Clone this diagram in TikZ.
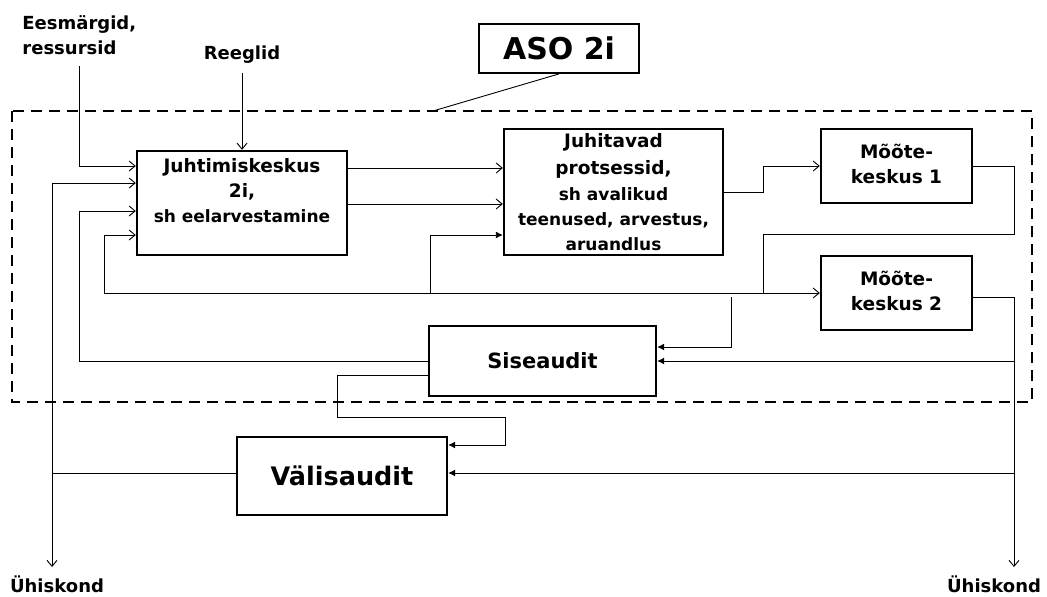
\documentclass[tikz,border=0pt]{standalone}
\usepackage{fontspec}
\setmainfont{DejaVu Sans}
\usetikzlibrary{arrows.meta}
\newcommand\smallfs{\fontsize{17}{24}\selectfont}

\begin{document}
\begin{tikzpicture}[x=1pt,y=-1pt,
    >={Straight Barb[length=6pt,width=10pt]},
    box/.style={draw,line width=2.4pt,align=center,inner sep=0pt,font=\bfseries\fontsize{18.5}{25}\selectfont},
    lbl/.style={font=\bfseries\fontsize{18}{25}\selectfont,inner sep=0pt},
    every path/.style={line width=0.9pt},
    fill tip/.style={-{Latex[length=7pt,width=7pt]}}]
    \useasboundingbox (0,0) rectangle (1047,597);
    \draw [line width=2.2pt, dash pattern=on 11pt off 7pt] (12,111) rectangle (1032,402);

    \node [box, line width=1.8pt, minimum width=160pt, minimum height=49pt, font=\bfseries\fontsize{30}{36}\selectfont] (aso) at (559,48.5) {ASO 2i};
    \node [box, minimum width=210pt, minimum height=104pt] (juht) at (242,203) {Juhtimiskeskus\\2i,\\{\smallfs sh eelarvestamine}\\ \mbox{}};
    \node [box, minimum width=219pt, minimum height=126pt] (prots) at (613.5,192) {Juhitavad\\[2pt]protsessid,\\[1pt]{\smallfs sh avalikud}\\{\smallfs teenused, arvestus,}\\{\smallfs aruandlus}};
    \node [box, minimum width=151pt, minimum height=74pt] (moot1) at (896.5,166) {\mbox{}\\[-14pt]Mõõte-\\keskus 1};
    \node [box, minimum width=151pt, minimum height=74pt] (moot2) at (896.5,293) {\mbox{}\\[-14pt]Mõõte-\\keskus 2};
    \node [box, minimum width=227pt, minimum height=70pt, font=\bfseries\fontsize{21}{25}\selectfont] (sise) at (542.5,361) {Siseaudit};
    \node [box, minimum width=210pt, minimum height=78pt, font=\bfseries\fontsize{25.5}{30}\selectfont] (valis) at (342,476) {Välisaudit};

    \node [lbl, align=left, anchor=north west] (eesm) at (22,15) {Eesmärgid,\\ressursid};
    \node [lbl] (reeg) at (242,55) {Reeglid};
    \node [lbl] (yh1) at (57,584) {Ühiskond};
    \node [lbl] (yh2) at (994,584) {Ühiskond};

    \draw (aso.south) -- (433,111);
    \draw [->] (79,66) |- (juht.west |- 0,166);
    \draw [->] (reeg.south |- 0,73) -- (juht.north);
    \draw [<->] (juht.west |- 0,183) -| (52,567);
    \draw (valis.west |- 0,473) -- (52,473);
    \draw [->] (sise.west) -| (79,211) -- (juht.west |- 0,211);
    \draw [fill tip] (sise.west |- 0,375) -| (337,417) -| (505,445) -- (valis.east |- 0,445);

    \draw [->] (juht.east |- 0,168) -- (prots.west |- 0,168);
    \draw [->] (juht.east |- 0,204) -- (prots.west |- 0,204);
    \draw [->] (prots.east |- 0,192) -| (763,166) -- (moot1.west);

    \coordinate (fb) at (763,293);
    \draw (moot1.east) -| (1014,234) -| (fb);
    \draw [->] (fb) -- (moot2.west);
    \draw [->] (fb) -| (104,235) -- (juht.west |- 0,235);
    \draw [fill tip] (430,293) |- (prots.west |- 0,235);

    \draw [->] (moot2.east |- 0,297) -| (1014,567);
    \draw [fill tip] (1014,361) -- (sise.east);
    \draw [fill tip] (1014,473) -- (valis.east |- 0,473);
    \draw [fill tip] (731,297) |- (sise.east |- 0,347);
\end{tikzpicture}
\end{document}
